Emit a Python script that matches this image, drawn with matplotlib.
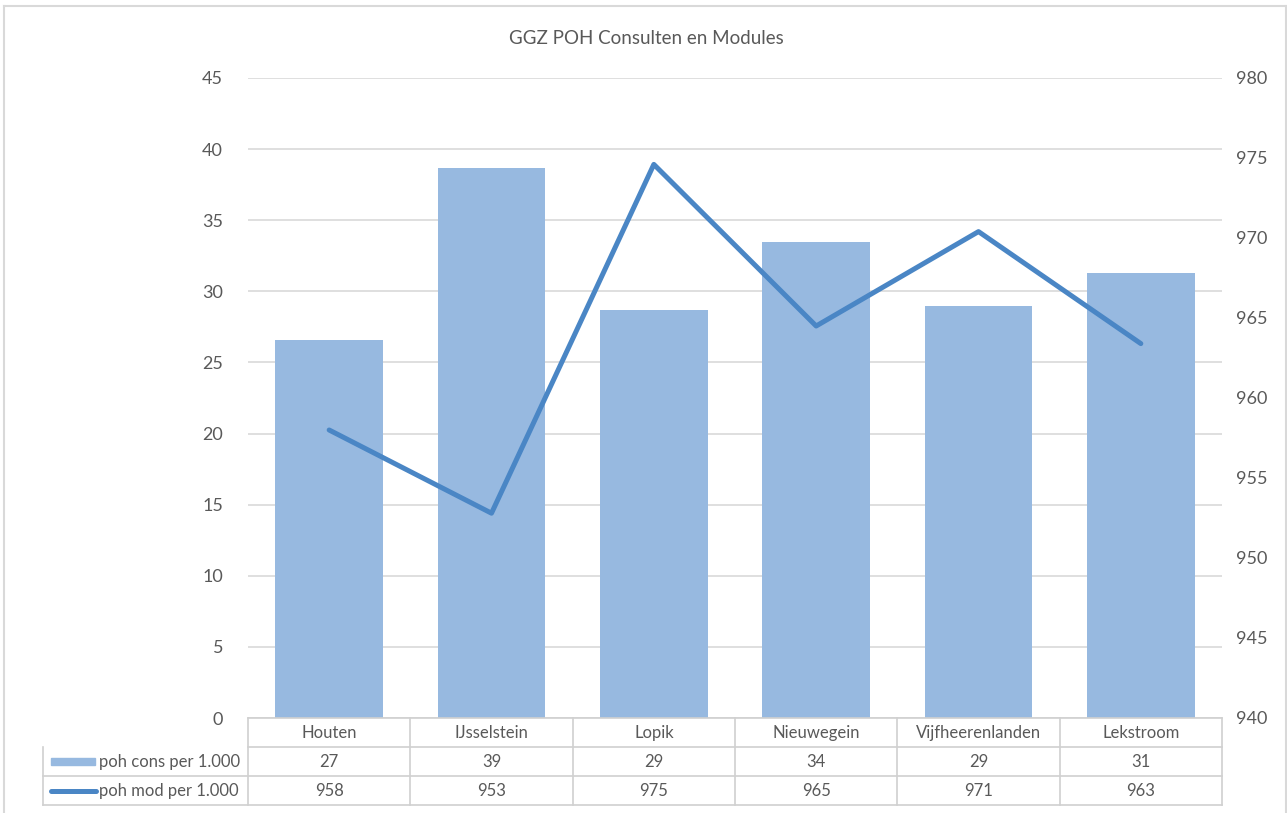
import matplotlib.pyplot as plt
import matplotlib.transforms as mtransforms
from matplotlib.patches import Rectangle
from matplotlib.lines import Line2D

# Data
categories = ["Houten", "IJsselstein", "Lopik", "Nieuwegein", "Vijfheerenlanden", "Lekstroom"]
cons_values = [26.6, 38.7, 28.7, 33.5, 29.0, 31.3]
mod_values = [958.0, 952.8, 974.6, 964.5, 970.4, 963.4]
cons_labels = ["27", "39", "29", "34", "29", "31"]
mod_labels = ["958", "953", "975", "965", "971", "963"]
cons_name = "poh cons per 1.000"
mod_name = "poh mod per 1.000"

bar_color = "#97B9E0"
line_color = "#4A86C5"
text_color = "#595959"
grid_color = "#D9D9D9"

plt.rcParams["font.family"] = ["Lato", "DejaVu Sans"]

W, H = 1287, 813
fig = plt.figure(figsize=(W / 100, H / 100), dpi=100)

# outer chart border (left, top, right)
for xs, ys in [([4, 4], [6, 813]), ([4, 1286], [6, 6]), ([1286, 1286], [6, 813])]:
    fig.add_artist(Line2D([v / W for v in xs], [1 - v / H for v in ys], transform=fig.transFigure,
                          color=grid_color, linewidth=1.5))

left, right, top, bottom = 248, 1222, 78, 718
ax = fig.add_axes([left / W, 1 - bottom / H, (right - left) / W, (bottom - top) / H])
ax2 = ax.twinx()

x = list(range(len(categories)))
ax.bar(x, cons_values, width=0.665, color=bar_color, zorder=2)
ax2.plot(x, mod_values, color=line_color, linewidth=3.6, solid_capstyle="round",
         solid_joinstyle="round", zorder=3)

ax.set_xlim(-0.5, len(categories) - 0.5)
ax.set_ylim(0, 45)
ax.set_yticks(range(0, 46, 5))
ax2.set_ylim(940, 980)
ax2.set_yticks(range(940, 981, 5))

ax.grid(axis="y", color=grid_color, linewidth=1.2, zorder=0)
ax.set_axisbelow(True)
for a in (ax, ax2):
    for s in a.spines.values():
        s.set_visible(False)
    a.tick_params(length=0, labelsize=13, colors=text_color)
ax.tick_params(axis="y", pad=18)
ax2.tick_params(axis="y", pad=10)
ax.set_xticks([])

fig.text(646 / W, 1 - 38 / H, "GGZ POH Consulten en Modules", ha="center", va="center",
         fontsize=13.5, color=text_color)

# data table below the axes
trans = mtransforms.blended_transform_factory(ax.transData, ax.transAxes)
rh = 29 / (bottom - top)
lab_left = (43 - left) / (right - left)
lc = "#D0D0D0"
lw = 1.2

for i in range(len(categories) + 1):
    ax.add_line(Line2D([i - 0.5, i - 0.5], [0, -3 * rh], transform=trans, color=lc, lw=lw, clip_on=False))
ax.add_line(Line2D([lab_left, lab_left], [-rh, -3 * rh], transform=ax.transAxes, color=lc, lw=lw, clip_on=False))
for k in range(1, 4):
    x0 = 0 if k == 1 else lab_left
    ax.add_line(Line2D([x0, 1], [-k * rh, -k * rh], transform=ax.transAxes, color=lc, lw=lw, clip_on=False))
ax.add_line(Line2D([0, 1], [0, 0], transform=ax.transAxes, color=lc, lw=lw, clip_on=False))

for i, cat in enumerate(categories):
    ax.text(i, -0.5 * rh, cat, transform=trans, ha="center", va="center", fontsize=12, color=text_color)
    ax.text(i, -1.5 * rh, cons_labels[i], transform=trans, ha="center", va="center", fontsize=12, color=text_color)
    ax.text(i, -2.5 * rh, mod_labels[i], transform=trans, ha="center", va="center", fontsize=12, color=text_color)

# row labels with legend keys
def ax_x(px):
    return (px - left) / (right - left)

ax.add_patch(Rectangle((ax_x(51), -1.5 * rh - 0.005), ax_x(95) - ax_x(51), 0.01, transform=ax.transAxes,
                       color=bar_color, clip_on=False))
ax.add_line(Line2D([ax_x(51), ax_x(96)], [-2.5 * rh, -2.5 * rh], transform=ax.transAxes, color=line_color,
                   lw=3.6, solid_capstyle="round", clip_on=False))
ax.text(ax_x(99), -1.5 * rh, cons_name, transform=ax.transAxes, ha="left", va="center", fontsize=12, color=text_color)
ax.text(ax_x(99), -2.5 * rh, mod_name, transform=ax.transAxes, ha="left", va="center", fontsize=12, color=text_color)

fig.savefig("out.png", dpi=100)
